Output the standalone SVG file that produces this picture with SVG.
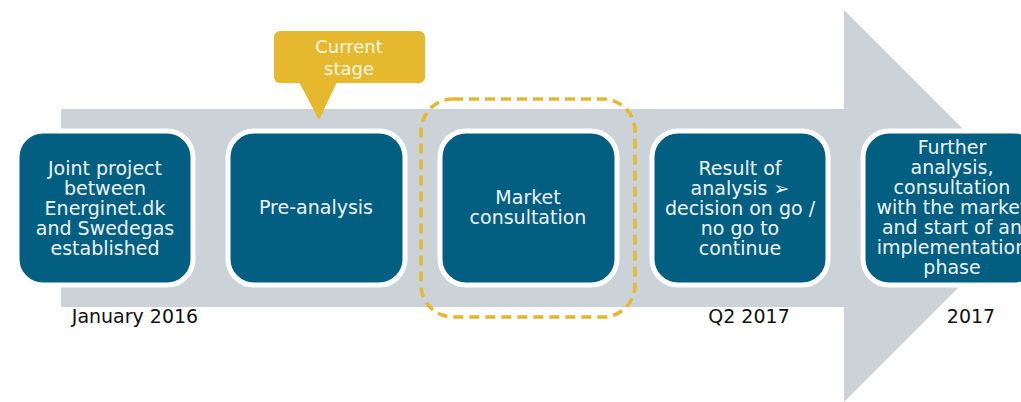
<svg xmlns="http://www.w3.org/2000/svg" width="1021" height="402" viewBox="0 0 1021 402">
<style>
.box{fill:#035F82;stroke:#FFFFFF;stroke-width:5}
.bt{font-family:"DejaVu Sans",Verdana,sans-serif;font-size:19px;fill:#EEF3F6;text-anchor:middle}
.dt{font-family:"DejaVu Sans",Verdana,sans-serif;font-size:19px;fill:#111111;text-anchor:middle}
.ct{font-family:"DejaVu Sans",Verdana,sans-serif;font-size:18px;fill:#FFF8E6;text-anchor:middle}
</style>
<rect width="1021" height="402" fill="#FFFFFF"/>
<g id="timeline-arrow">
<polygon points="61,109 844,109 844,10 1040,206 844,402 844,307 61,307" fill="#CBD2D8"/>
</g>
<g id="connectors"></g>
<g id="node-joint">
<rect class="box" x="17" y="131" width="176" height="154" rx="26"/>
<text class="bt" x="105"><tspan x="105" y="175">Joint project</tspan><tspan x="105" y="195">between</tspan><tspan x="105" y="215">Energinet.dk</tspan><tspan x="105" y="235">and Swedegas</tspan><tspan x="105" y="255">established</tspan></text>
</g>
<g id="node-pre">
<rect class="box" x="228" y="131" width="177" height="154" rx="26"/>
<text class="bt" x="316" y="214">Pre-analysis</text>
</g>
<g id="node-market">
<rect class="box" x="440" y="131" width="177" height="154" rx="26"/>
<text class="bt"><tspan x="528" y="204">Market</tspan><tspan x="528" y="224">consultation</tspan></text>
</g>
<g id="node-result">
<rect class="box" x="652" y="131" width="176" height="154" rx="26"/>
<text class="bt"><tspan x="740" y="175">Result of</tspan><tspan x="740" y="195">analysis ➢</tspan><tspan x="740" y="215">decision on go /</tspan><tspan x="740" y="235">no go to</tspan><tspan x="740" y="255">continue</tspan></text>
</g>
<g id="node-further">
<rect class="box" x="863" y="131" width="177" height="154" rx="26"/>
<text class="bt"><tspan x="952" y="154">Further</tspan><tspan x="952" y="174">analysis,</tspan><tspan x="952" y="194">consultation</tspan><tspan x="952" y="214">with the market</tspan><tspan x="952" y="234">and start of an</tspan><tspan x="952" y="254">implementation</tspan><tspan x="952" y="274">phase</tspan></text>
</g>
<g id="highlight">
<rect x="421" y="99" width="214" height="218" rx="32" fill="none" stroke="#E6B830" stroke-width="3.5" stroke-dasharray="10,6"/>
</g>
<g id="callout">
<rect x="274" y="31" width="151" height="52" rx="6" fill="#E6B82E"/>
<polygon points="299,82 337,82 319,120" fill="#E6B82E"/>
<text class="ct"><tspan x="349" y="53">Current</tspan><tspan x="349" y="75">stage</tspan></text>
</g>
<g id="dates">
<text class="dt" x="135" y="323">January 2016</text>
<text class="dt" x="749" y="323">Q2 2017</text>
<text class="dt" x="971" y="323">2017</text>
</g>
</svg>
